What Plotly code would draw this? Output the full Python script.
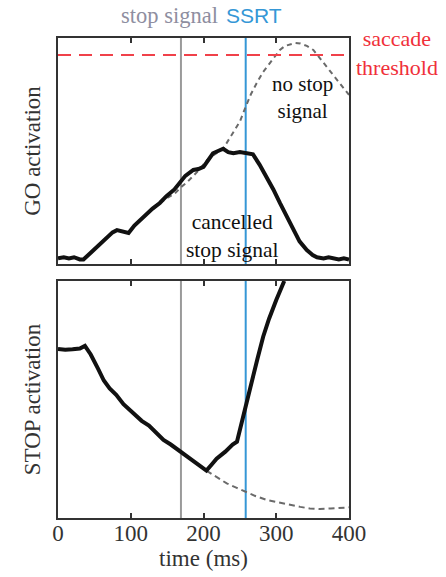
import plotly.graph_objects as go

# ---------------- data ----------------
stop_signal_time = 169
ssrt_time = 258
threshold = 0.925

go_cancel_t = [0, 8, 15, 22, 30, 35, 45, 55, 65, 75, 81, 88, 97, 105, 115, 122, 130, 140, 149, 160,
               169, 175, 186, 193, 200, 207, 213, 220, 227, 234, 241, 250, 259, 268, 277, 287, 296,
               305, 314, 323, 332, 342, 350, 356, 365, 372, 378, 386, 393, 400]
go_cancel_v = [0.025, 0.03, 0.025, 0.03, 0.02, 0.02, 0.05, 0.08, 0.11, 0.14, 0.15, 0.145, 0.137, 0.17,
               0.20, 0.225, 0.245, 0.27, 0.30, 0.33, 0.364, 0.39, 0.416, 0.42, 0.43, 0.46, 0.49, 0.50,
               0.51, 0.495, 0.49, 0.495, 0.49, 0.485, 0.44, 0.386, 0.33, 0.27, 0.21, 0.15, 0.10, 0.062,
               0.04, 0.03, 0.025, 0.03, 0.025, 0.02, 0.025, 0.02]

go_nostop_t = [140, 149, 160, 169, 177, 186, 195, 205, 213, 227, 241, 250, 258, 265, 273, 282, 291,
               298, 305, 312, 319, 326, 333, 342, 351, 360, 369, 378, 387, 393, 400]
go_nostop_v = [0.27, 0.29, 0.31, 0.34, 0.36, 0.39, 0.42, 0.46, 0.48, 0.51, 0.58, 0.63, 0.696, 0.75,
               0.80, 0.85, 0.888, 0.92, 0.947, 0.965, 0.973, 0.978, 0.976, 0.965, 0.947, 0.91, 0.873,
               0.835, 0.80, 0.775, 0.748]

stop_cancel_t = [0, 10, 20, 30, 37, 45, 55, 63, 71, 80, 90, 103, 115, 125, 135, 145, 155, 169, 180,
                 192, 204, 211, 218, 230, 240, 246, 252, 258, 266, 274, 282, 290, 300, 311]
stop_cancel_v = [0.713, 0.71, 0.712, 0.715, 0.726, 0.69, 0.63, 0.58, 0.547, 0.52, 0.48, 0.442, 0.41,
                 0.39, 0.36, 0.329, 0.31, 0.28, 0.255, 0.23, 0.20, 0.225, 0.25, 0.28, 0.31, 0.322,
                 0.40, 0.47, 0.57, 0.67, 0.765, 0.84, 0.92, 1.0]

stop_nostop_t = [204, 218, 232, 245, 258, 272, 287, 303, 319, 333, 346, 360, 375, 390, 400]
stop_nostop_v = [0.2, 0.172, 0.146, 0.128, 0.111, 0.092, 0.076, 0.065, 0.055, 0.047, 0.04, 0.038,
                 0.04, 0.043, 0.045]

x_ticks = [0, 100, 200, 300, 400]

# ---------------- layout geometry (pixels) ----------------
W, H = 446, 577
L, R, T, B = 58, 349, 38, 518
top_bottom_px, bot_top_px = 264, 281

def py(p):  # pixel y -> paper
    return (B - p) / (B - T)

def px(p):  # pixel x -> paper
    return (p - L) / (R - L)

SERIF = "Liberation Serif"
GRAY_LINE = "#9a9a9a"
BLUE = "#3597d6"
AX = "#333333"

fig = go.Figure()

fig.add_trace(go.Scatter(x=go_nostop_t, y=go_nostop_v, mode="lines", xaxis="x", yaxis="y",
                         line=dict(color="#6a6a6a", width=2, dash="5px,4px"), showlegend=False))
fig.add_trace(go.Scatter(x=go_cancel_t, y=go_cancel_v, mode="lines", xaxis="x", yaxis="y",
                         line=dict(color="#111111", width=4), showlegend=False))
fig.add_trace(go.Scatter(x=stop_nostop_t, y=stop_nostop_v, mode="lines", xaxis="x2", yaxis="y2",
                         line=dict(color="#6a6a6a", width=2, dash="6px,4px"), showlegend=False))
fig.add_trace(go.Scatter(x=stop_cancel_t, y=stop_cancel_v, mode="lines", xaxis="x2", yaxis="y2",
                         line=dict(color="#111111", width=4), showlegend=False))

shapes = []
for xr, yr in (("x", "y"), ("x2", "y2")):
    shapes.append(dict(type="line", xref=xr, yref=yr + " domain", x0=stop_signal_time, x1=stop_signal_time,
                       y0=0, y1=1, line=dict(color=GRAY_LINE, width=2), layer="below"))
    shapes.append(dict(type="line", xref=xr, yref=yr + " domain", x0=ssrt_time, x1=ssrt_time,
                       y0=0, y1=1, line=dict(color=BLUE, width=2), layer="below"))
shapes.append(dict(type="line", xref="x domain", yref="y", x0=0, x1=1, y0=threshold, y1=threshold,
                   line=dict(color="#f0414a", width=2, dash="13px,8px")))

axis_common = dict(range=[0, 400], showgrid=False, zeroline=False, showline=True, linecolor=AX,
                   linewidth=2, mirror="ticks", ticks="inside", ticklen=5, tickcolor=AX, tickwidth=2,
                   tickvals=x_ticks)
yaxis_common = dict(range=[0, 1], showgrid=False, zeroline=False, showline=True, linecolor=AX,
                    linewidth=2, mirror=True, showticklabels=False, ticks="")

fig.update_layout(
    width=W, height=H,
    margin=dict(l=L, r=W - R, t=T, b=H - B, pad=0),
    paper_bgcolor="white", plot_bgcolor="white",
    font=dict(family=SERIF, size=21, color=AX),
    xaxis=dict(**axis_common, anchor="y", showticklabels=False),
    yaxis=dict(**yaxis_common, domain=[py(top_bottom_px), 1], anchor="x",
               title=dict(text="GO activation", standoff=9, font=dict(size=23, color=AX))),
    xaxis2=dict(**axis_common, anchor="y2", showticklabels=True, ticklabelstandoff=-7,
                tickfont=dict(size=23, color=AX),
                title=dict(text="time (ms)", standoff=0, font=dict(size=23, color=AX))),
    yaxis2=dict(**yaxis_common, domain=[0, py(bot_top_px)], anchor="x2",
                title=dict(text="STOP activation", standoff=9, font=dict(size=23, color=AX))),
    shapes=shapes,
)

annotations = [
    dict(text="stop signal", xref="paper", yref="paper", x=px(220), y=py(16), xanchor="right",
         yanchor="middle", showarrow=False, font=dict(family=SERIF, size=22.5, color="#8e8ea0")),
    dict(text="SSRT", xref="paper", yref="paper", x=px(224), y=py(16), xanchor="left",
         yanchor="middle", showarrow=False, font=dict(family="Liberation Sans", size=21, color=BLUE)),
    dict(text="saccade<br>threshold", xref="paper", yref="paper", x=px(397), y=py(53),
         xanchor="center", yanchor="middle", showarrow=False, align="center",
         font=dict(family=SERIF, size=22, color="#f0303a")),
    dict(text="no stop<br>signal", xref="paper", yref="paper", x=px(302), y=py(97),
         xanchor="center", yanchor="middle", showarrow=False, align="center",
         font=dict(family=SERIF, size=21, color="#111111")),
    dict(text="cancelled<br>stop signal", xref="paper", yref="paper", x=px(232), y=py(236),
         xanchor="center", yanchor="middle", showarrow=False, align="center",
         font=dict(family=SERIF, size=21.5, color="#111111")),
]
fig.update_layout(annotations=annotations)

fig.write_html("out.html", config={"displayModeBar": False},
               post_script="document.body.style.margin='0';")
